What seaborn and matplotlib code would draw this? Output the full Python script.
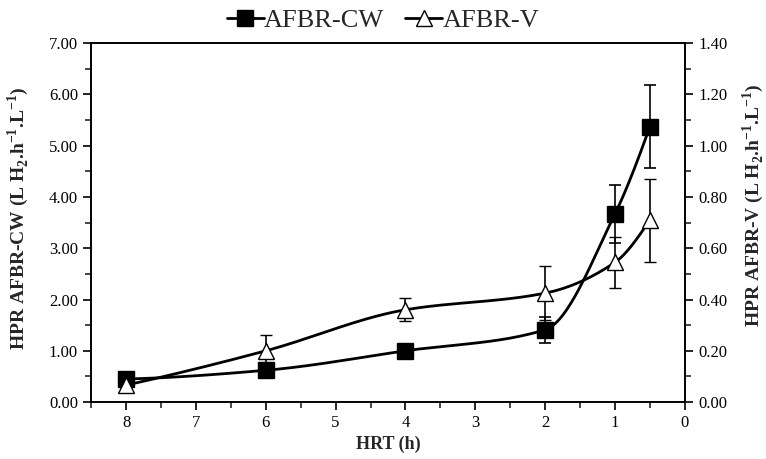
import numpy as np
import matplotlib
matplotlib.use("Agg")
import matplotlib.pyplot as plt
import seaborn as sns
from matplotlib.lines import Line2D
from matplotlib.ticker import MultipleLocator, FormatStrFormatter

# ---- data ----
hrt = [8, 6, 4, 2, 1, 0.5]
hpr_cw = [0.45, 0.62, 1.00, 1.41, 3.67, 5.37]
err_cw = [0.04, 0.05, 0.06, 0.25, 0.56, 0.81]
hpr_v = [0.066, 0.20, 0.36, 0.425, 0.545, 0.71]
err_v = [0.02, 0.06, 0.045, 0.105, 0.10, 0.162]
series_names = ["AFBR-CW", "AFBR-V"]


def pchip(x, y, n=400):
    x = np.asarray(x, float)
    y = np.asarray(y, float)
    o = np.argsort(x)
    x, y = x[o], y[o]
    h = np.diff(x)
    dl = np.diff(y) / h
    k = len(x)
    d = np.zeros(k)
    for i in range(1, k - 1):
        if dl[i - 1] * dl[i] <= 0:
            d[i] = 0
        else:
            w1 = 2 * h[i] + h[i - 1]
            w2 = h[i] + 2 * h[i - 1]
            d[i] = (w1 + w2) / (w1 / dl[i - 1] + w2 / dl[i])

    def end(h0, h1, d0, d1):
        s = ((2 * h0 + h1) * d0 - h0 * d1) / (h0 + h1)
        if np.sign(s) != np.sign(d0):
            s = 0
        elif np.sign(d0) != np.sign(d1) and abs(s) > abs(3 * d0):
            s = 3 * d0
        return s

    d[0] = end(h[0], h[1], dl[0], dl[1])
    d[-1] = end(h[-1], h[-2], dl[-1], dl[-2])
    xs = np.linspace(x[0], x[-1], n)
    idx = np.clip(np.searchsorted(x, xs) - 1, 0, k - 2)
    hh = h[idx]
    t = (xs - x[idx]) / hh
    h00 = 2 * t ** 3 - 3 * t ** 2 + 1
    h10 = t ** 3 - 2 * t ** 2 + t
    h01 = -2 * t ** 3 + 3 * t ** 2
    h11 = t ** 3 - t ** 2
    ys = h00 * y[idx] + h10 * hh * d[idx] + h01 * y[idx + 1] + h11 * hh * d[idx + 1]
    return xs, ys


sns.set_theme(style="ticks")
plt.rcParams["font.family"] = ["Liberation Serif", "DejaVu Serif"]
plt.rcParams["mathtext.fontset"] = "custom"
plt.rcParams["mathtext.rm"] = "Liberation Serif"
plt.rcParams["mathtext.bf"] = "Liberation Serif:bold"

fig = plt.figure(figsize=(7.66, 4.59), dpi=100)
ax = fig.add_axes([0.119, 0.124, 0.775, 0.782])
ax2 = ax.twinx()

xs, ys = pchip(hrt, hpr_cw)
sns.lineplot(x=xs, y=ys, ax=ax, color="black", lw=2, sort=False, estimator=None)
ax.errorbar(hrt, hpr_cw, yerr=err_cw, fmt="s", ms=11, mfc="black", mec="black",
            ecolor="black", elinewidth=1.2, capsize=4, capthick=1.2, zorder=5)

xs2, ys2 = pchip(hrt, hpr_v)
sns.lineplot(x=xs2, y=ys2, ax=ax2, color="black", lw=2, sort=False, estimator=None)
ax2.errorbar(hrt, hpr_v, yerr=err_v, fmt="^", ms=12, mfc="white", mec="black", mew=1,
             ecolor="black", elinewidth=1.2, capsize=4, capthick=1.2, zorder=5)

ax.set_xlim(8.5, 0)
ax.set_ylim(0, 7)
ax2.set_ylim(0, 1.4)

ax.xaxis.set_major_locator(MultipleLocator(1))
ax.xaxis.set_minor_locator(MultipleLocator(0.5))
ax.yaxis.set_major_locator(MultipleLocator(1))
ax.yaxis.set_minor_locator(MultipleLocator(0.5))
ax.yaxis.set_major_formatter(FormatStrFormatter("%.2f"))
ax2.yaxis.set_major_locator(MultipleLocator(0.2))
ax2.yaxis.set_minor_locator(MultipleLocator(0.1))
ax2.yaxis.set_major_formatter(FormatStrFormatter("%.2f"))

for a in (ax, ax2):
    a.tick_params(which="major", direction="out", length=6, width=1.2, labelsize=12, colors="black")
    a.tick_params(which="minor", direction="out", length=4, width=1.2)
    for s in a.spines.values():
        s.set_linewidth(1.2)
        s.set_color("black")
        s.set_visible(True)

ax.set_xlabel("HRT (h)", fontsize=13, fontweight="bold")
ax.xaxis.set_label_coords(0.5, -0.095)
ax.set_ylabel(r"HPR AFBR-CW (L H$_{\mathbf{2}}$.h$^{\mathbf{-1}}$.L$^{\mathbf{-1}}$)",
              fontsize=14, fontweight="bold")
ax.yaxis.set_label_coords(-0.102, 0.513)
ax2.set_ylabel(r"HPR AFBR-V (L H$_{\mathbf{2}}$.h$^{\mathbf{-1}}$.L$^{\mathbf{-1}}$)",
               fontsize=14, fontweight="bold")
ax2.yaxis.set_label_coords(1.093, 0.55)

handles = [
    Line2D([], [], color="black", lw=2, marker="s", ms=11, mfc="black", mec="black"),
    Line2D([], [], color="black", lw=2, marker="^", ms=12, mfc="white", mec="black"),
]
fig.legend(handles, series_names, loc="center", bbox_to_anchor=(0.5, 1 - 20 / 459),
           ncol=2, frameon=False, fontsize=19, handlelength=1.4, handletextpad=0.0,
           columnspacing=0.8, borderaxespad=0)

fig.savefig("out.png", dpi=100)
